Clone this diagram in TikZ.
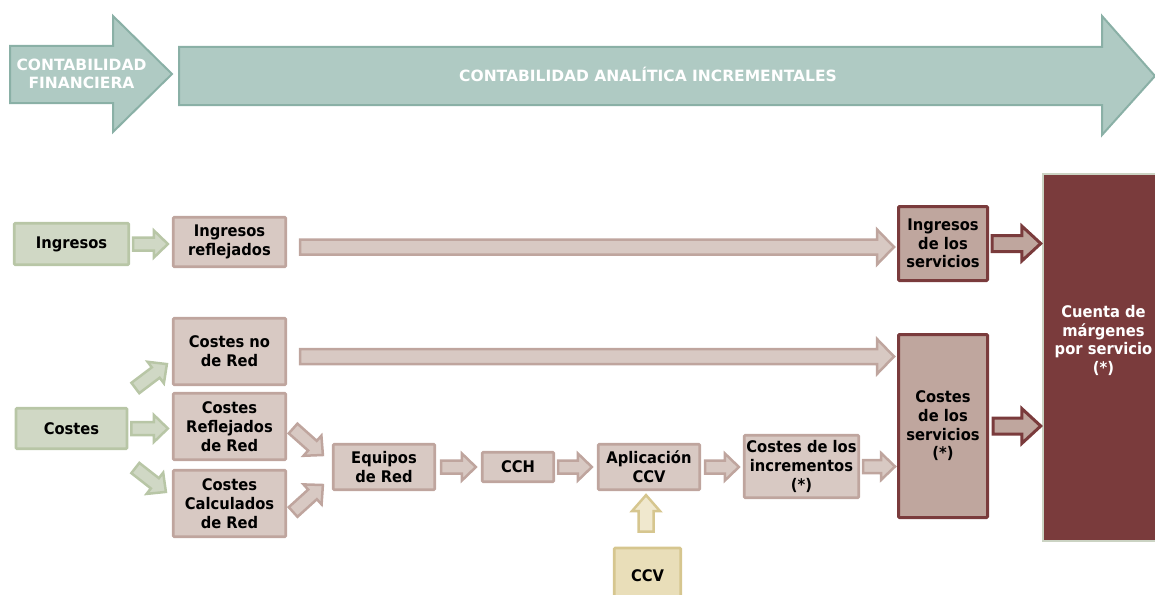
\documentclass[tikz,border=0pt]{standalone}
\usepackage{fontspec}
\setmainfont{DejaVu Sans}
\newfontfamily\nodefont[FakeStretch=0.92]{DejaVu Sans}
\usetikzlibrary{calc}
\definecolor{bannerfill}{HTML}{AFCAC3}
\definecolor{bannerline}{HTML}{8AB0A6}
\definecolor{greenfill}{HTML}{D0D8C5}
\definecolor{greenline}{HTML}{B8C6A6}
\definecolor{brownfill}{HTML}{D8C9C3}
\definecolor{brownline}{HTML}{BFA59E}
\definecolor{midfill}{HTML}{BFA69E}
\definecolor{darkred}{HTML}{7A3B3C}
\definecolor{ccvfill}{HTML}{E9DEB9}
\definecolor{ccvline}{HTML}{D6C68F}
\definecolor{cuentaline}{HTML}{CBD3C3}
% block arrow: [style]{from}{to}{body half width}{head half width}{head length}
\newcommand\blockarrow[6][]{%
  \path (#2) coordinate (ba-s) (#3) coordinate (ba-t);
  \path ($(ba-t)!#6!(ba-s)$) coordinate (ba-h);
  \draw[#1] ($(ba-s)!#4!90:(ba-t)$) -- ($(ba-h)!#4!90:(ba-t)$) -- ($(ba-h)!#5!90:(ba-t)$)
    -- (ba-t) -- ($(ba-h)!#5!-90:(ba-t)$) -- ($(ba-h)!#4!-90:(ba-t)$) -- ($(ba-s)!#4!-90:(ba-t)$) -- cycle;
}
\tikzset{
  every node/.style={font=\nodefont\fontsize{16}{18.7}\selectfont\bfseries, align=center, inner sep=0pt},
  box/.style={rectangle, line width=2.7pt, rounded corners=1pt},
  greenbox/.style={box, draw=greenline, fill=greenfill},
  brownbox/.style={box, draw=brownline, fill=brownfill},
  servbox/.style={box, line width=3pt, draw=darkred, fill=midfill},
  ccvbox/.style={box, draw=ccvline, fill=ccvfill},
  cuentabox/.style={rectangle, line width=2.5pt, draw=cuentaline, fill=darkred},
  garrow/.style={draw=greenline, fill=greenfill, line width=2.5pt, line join=miter},
  larrow/.style={draw=brownline, fill=brownfill, line width=2.5pt, line join=miter},
  darrow/.style={draw=darkred, fill=midfill, line width=3pt, line join=miter},
  yarrow/.style={draw=ccvline, fill=ccvfill!70!white, line width=2.5pt, line join=miter},
  banner/.style={draw=bannerline, fill=bannerfill, line width=2pt, line join=miter},
  bannertext/.style={text=white, font=\fontsize{15.5}{18}\selectfont\bfseries},
}
\begin{document}
\begin{tikzpicture}[x=1pt, y=-1pt]
\useasboundingbox (0,0) rectangle (1155,594);
\clip (0,0) rectangle (1155,594);
% banner arrows
\draw[banner] (10,46) -- (113,46) -- (113,16) -- (172,74) -- (113,132) -- (113,103) -- (10,103) -- cycle;
\draw[banner] (179,47) -- (1102,47) -- (1102,16) -- (1155,76) -- (1102,135) -- (1102,105) -- (179,105) -- cycle;
\node[bannertext] (cf) at (81.5,74) {CONTABILIDAD\\FINANCIERA};
\node[bannertext] (cai) at (648,74) {CONTABILIDAD ANALÍTICA INCREMENTALES};
% nodes
\node[greenbox, minimum width=114.5pt, minimum height=41.5pt] (ing) at (71.5,244) {Ingresos};
\node[greenbox, minimum width=111pt, minimum height=40.5pt] (cos) at (71.5,428.5) {Costes};
\node[brownbox, minimum width=112.5pt, minimum height=49.5pt] (ingr) at (229.5,242) {Ingresos\\reflejados};
\node[brownbox, minimum width=112.5pt, minimum height=66.5pt] (cnr) at (229.5,351.5) {Costes no\\de Red};
\node[brownbox, minimum width=112.5pt, minimum height=66.5pt] (crr) at (229.5,426.5) {Costes\\Reflejados\\de Red};
\node[brownbox, minimum width=112.5pt, minimum height=66.5pt] (ccr) at (229.5,503.5) {Costes\\Calculados\\de Red};
\node[brownbox, minimum width=101.5pt, minimum height=45.5pt] (eq) at (384,467) {Equipos\\de Red};
\node[brownbox, minimum width=71.5pt, minimum height=29.5pt] (cch) at (518,467) {CCH};
\node[brownbox, minimum width=101.5pt, minimum height=45.5pt] (apl) at (649,467) {Aplicación\\CCV};
\node[ccvbox, minimum width=66.5pt, minimum height=56pt] (ccv) at (647.5,576) {CCV};
\node[brownbox, minimum width=114.5pt, minimum height=62.5pt] (cinc) at (801.5,466.5) {Costes de los\\incrementos\\(*)};
\node[servbox, minimum width=89pt, minimum height=74pt] (ingserv) at (943,243.5) {Ingresos\\de los\\servicios};
\node[servbox, minimum width=89pt, minimum height=183pt] (cserv) at (943,426) {Costes\\de los\\servicios\\(*)};
\node[cuentabox, minimum width=121pt, minimum height=367pt] (cuenta) at (1103.5,357.5) {};
\node[text=white] (cuentatxt) at ($(cuenta.center)+(0,-17)$) {Cuenta de\\márgenes\\por servicio\\(*)};
% connectors
\blockarrow[garrow]{$(ing.east)+(3,0)$}{$(ingr.west |- ing.east)+(-4,0)$}{6.5pt}{13.5pt}{14pt}
\blockarrow[garrow]{$(cos.east)+(7,-40.5)$}{$(cnr.south west)+(-5,-22)$}{6.5pt}{13.5pt}{14pt}
\blockarrow[garrow]{$(cos.east)+(3,0)$}{$(crr.west |- cos.east)+(-4,0)$}{6.5pt}{13.5pt}{14pt}
\blockarrow[garrow]{$(cos.east)+(7,39.5)$}{$(ccr.north west)+(-6,23)$}{6.5pt}{13.5pt}{14pt}
\blockarrow[larrow]{$(crr.east)+(6,2)$}{$(eq.west)+(-9,-12)$}{6.5pt}{13.5pt}{14pt}
\blockarrow[larrow]{$(ccr.east)+(6,8.5)$}{$(eq.west)+(-9,18)$}{6.5pt}{13.5pt}{14pt}
\blockarrow[larrow]{$(eq.east)+(5,0)$}{$(cch.west)+(-5,0)$}{6.5pt}{13.5pt}{14pt}
\blockarrow[larrow]{$(cch.east)+(3,0)$}{$(apl.west)+(-5,0)$}{6.5pt}{13.5pt}{14pt}
\blockarrow[larrow]{$(apl.east)+(4,0)$}{$(cinc.west |- apl.east)+(-4,0)$}{6.5pt}{13.5pt}{14pt}
\blockarrow[larrow]{$(cinc.east)+(3,0)$}{$(cserv.west |- cinc.east)+(-2,0)$}{6.5pt}{13.5pt}{14pt}
\blockarrow[yarrow]{$(ccv.north)+(-1.5,-15)$}{$(ccv.north |- apl.south)+(-1.5,4)$}{7.5pt}{14pt}{16pt}
\blockarrow[larrow]{$(ingr.east)+(13,5)$}{$(ingserv.west |- ingr.east)+(-3,5)$}{7.5pt}{17.5pt}{17pt}
\blockarrow[larrow]{$(cnr.east)+(13,5)$}{$(cserv.west |- cnr.east)+(-3,5)$}{7.5pt}{17.5pt}{17pt}
\blockarrow[darrow]{$(ingserv.east)+(3,0)$}{$(cuenta.west |- ingserv.east)+(-1,0)$}{8pt}{17.5pt}{19pt}
\blockarrow[darrow]{$(cserv.east)+(4,0)$}{$(cuenta.west |- cserv.east)+(-1,0)$}{8pt}{17.5pt}{19pt}
\end{tikzpicture}
\end{document}
